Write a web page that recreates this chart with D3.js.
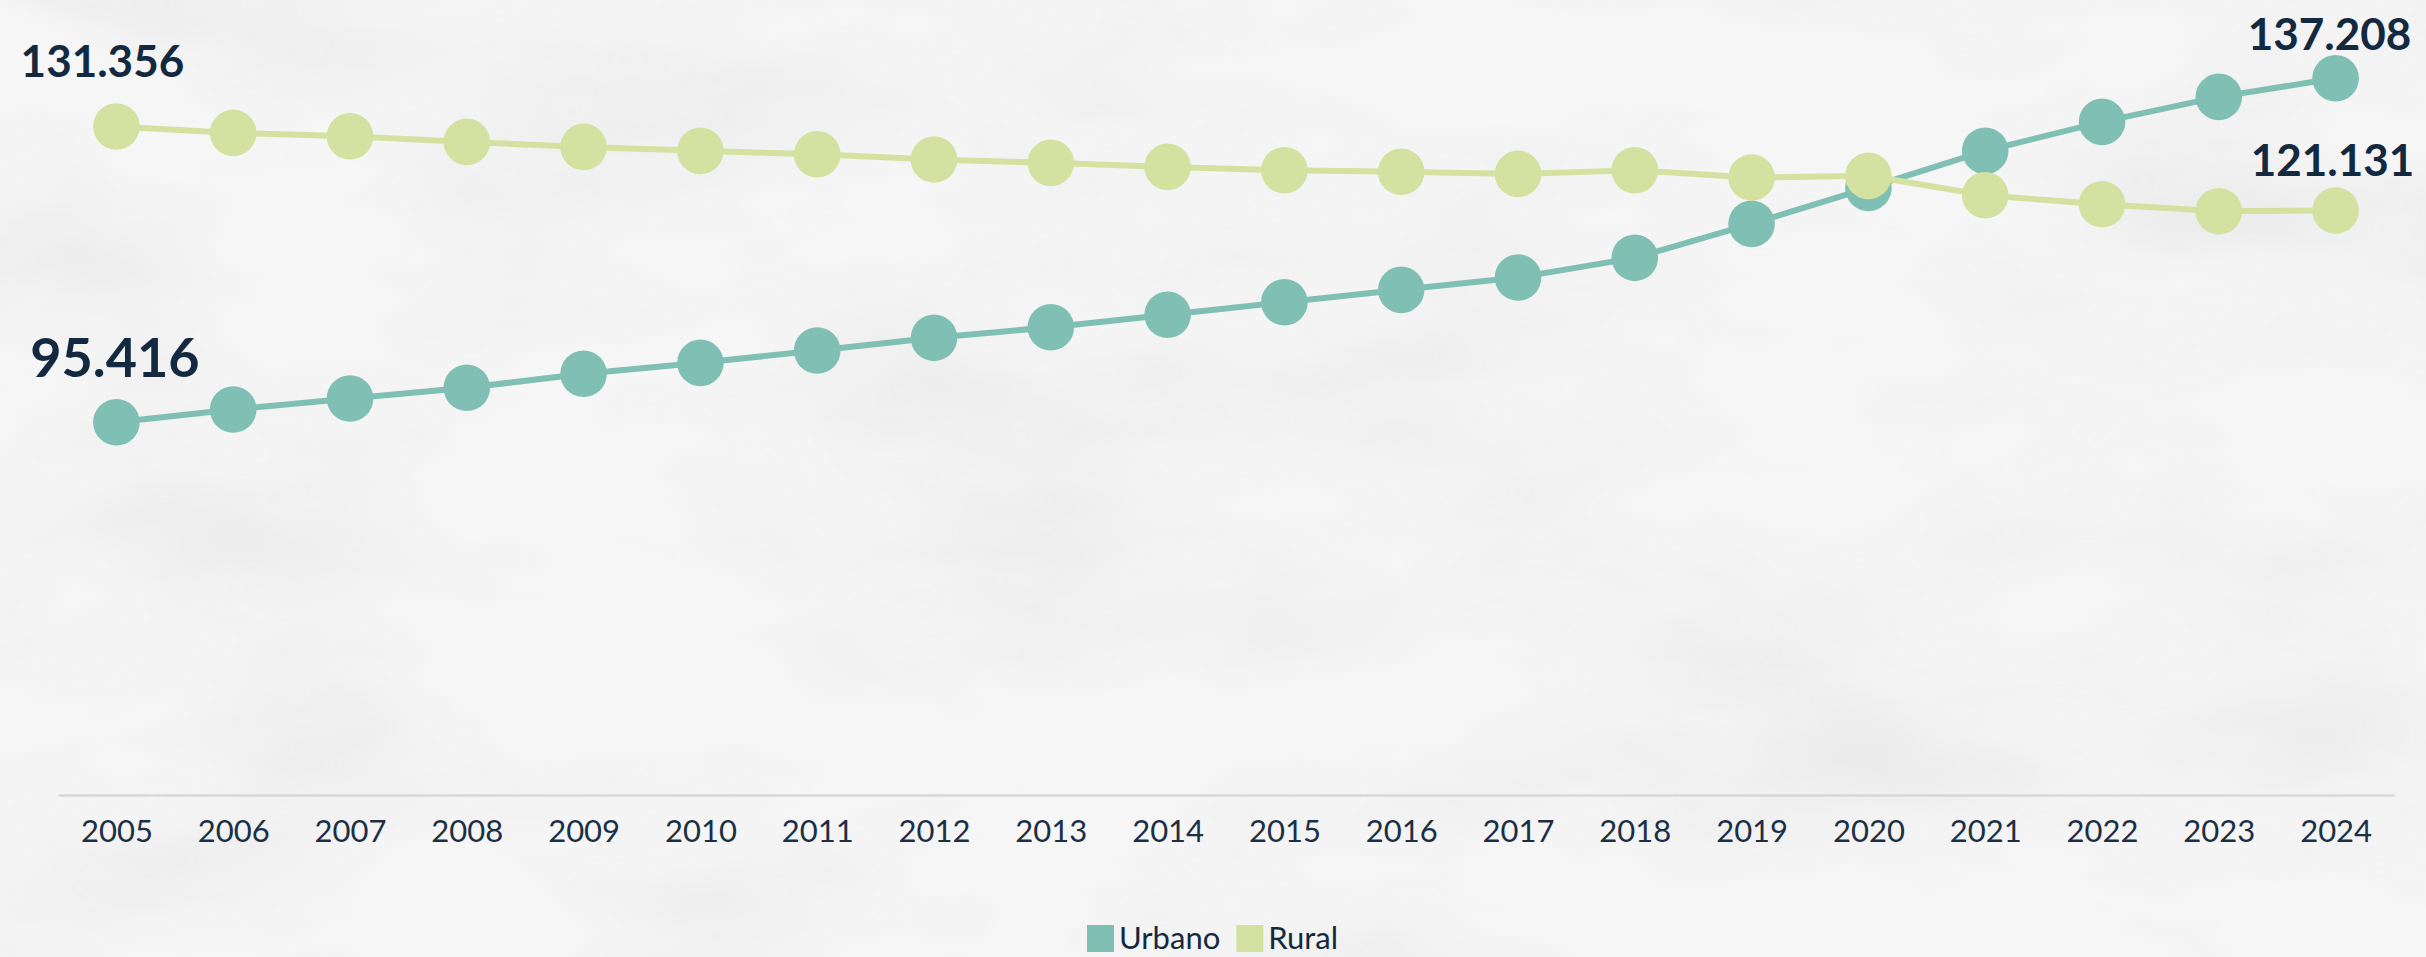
<!DOCTYPE html>
<html>
<head>
<meta charset="utf-8">
<script src="https://cdn.jsdelivr.net/npm/d3@7"></script>
<style>
  html, body { margin: 0; padding: 0; background: #f4f4f4; }
  svg { display: block; }
</style>
</head>
<body>
<svg id="chart" width="2426" height="957"></svg>
<script>
// ---- data ----
const years = ["2005","2006","2007","2008","2009","2010","2011","2012","2013","2014",
               "2015","2016","2017","2018","2019","2020","2021","2022","2023","2024"];
const urbano = [95.416, 96.96, 98.30, 99.60, 101.30, 102.63, 104.13, 105.67, 106.96, 108.47,
                110.00, 111.50, 113.00, 115.39, 119.52, 123.89, 128.39, 131.91, 134.95, 137.208];
const rural  = [131.356, 130.57, 130.16, 129.48, 128.87, 128.39, 127.97, 127.33, 126.93, 126.44,
                126.03, 125.84, 125.59, 126.03, 125.14, 125.35, 122.99, 121.90, 121.05, 121.131];
const seriesNames = ["Urbano", "Rural"];
const tickLabels = years;
// which points carry a value label
const labelledPoints = [
  { series: "Rural",  index: 0 },
  { series: "Urbano", index: 0 },
  { series: "Urbano", index: 19 },
  { series: "Rural",  index: 19 }
];

// ---- styles / layout ----
const W = 2426, H = 957;
const colors = { Urbano: "#80c0b4", Rural: "#d5e1a0" };
const textColor = "#13293f";
const labelStyle = [
  { dx: -14, dy: -49, size: 44 },
  { dx: -1.5, dy: -45, size: 54 },
  { dx: -6, dy: -28, size: 44 },
  { dx: -3, dy: -35, size: 44 }
];

const svg = d3.select("#chart");

// background texture
const defs = svg.append("defs");
const f = defs.append("filter").attr("id", "tex").attr("x", 0).attr("y", 0).attr("width", "100%").attr("height", "100%");
f.append("feTurbulence").attr("type", "fractalNoise").attr("baseFrequency", "0.0025 0.006").attr("numOctaves", 4).attr("seed", 7);
f.append("feColorMatrix").attr("type", "matrix")
  .attr("values", "0 0 0 0 0.55  0 0 0 0 0.55  0 0 0 0 0.55  0 0 0 0.9 -0.36");
svg.append("rect").attr("width", W).attr("height", H).attr("fill", "#f6f6f6");
svg.append("rect").attr("width", W).attr("height", H).attr("filter", "url(#tex)").attr("opacity", 0.45);

// scales
const x = d3.scalePoint().domain(years).range([58, 2394]).padding(0.5);
const y = d3.scaleLinear().domain([50, 150]).range([796, -27]);

// x axis
const axis = d3.axisBottom(x).tickSize(0).tickPadding(0).tickFormat((d, i) => tickLabels[i]);
const gx = svg.append("g").attr("transform", `translate(0,${y(50) - 1})`).call(axis);
gx.select(".domain").attr("stroke", "#d8d8d8").attr("stroke-width", 2.5);
gx.selectAll(".tick text")
  .attr("font-family", "Lato, sans-serif").attr("font-size", 31).attr("fill", "#1b2f45")
  .attr("dy", null).attr("y", 47);

// series
const data = { Urbano: urbano, Rural: rural };
const line = d3.line().x((d, i) => x(years[i])).y(d => y(d));
seriesNames.forEach(name => {
  const g = svg.append("g");
  g.append("path").datum(data[name]).attr("d", line)
    .attr("fill", "none").attr("stroke", colors[name]).attr("stroke-width", 6);
  g.selectAll("circle").data(data[name]).join("circle")
    .attr("cx", (d, i) => x(years[i])).attr("cy", d => y(d)).attr("r", 23.3)
    .attr("fill", colors[name]);
});

// value labels
const fmt = d3.format(".3f");
labelledPoints.forEach((p, k) => {
  const v = data[p.series][p.index];
  const s = labelStyle[k];
  svg.append("text")
    .attr("x", x(years[p.index]) + s.dx).attr("y", y(v) + s.dy)
    .attr("text-anchor", "middle")
    .attr("font-family", "Lato, sans-serif").attr("font-weight", 700)
    .attr("font-size", s.size).attr("fill", textColor)
    .text(fmt(v));
});

// legend
const legend = svg.append("g").attr("transform", "translate(1087,925)");
let lx = 0;
seriesNames.forEach(name => {
  const g = legend.append("g").attr("transform", `translate(${lx},0)`);
  g.append("rect").attr("width", 27).attr("height", 27).attr("fill", colors[name]);
  const t = g.append("text").attr("x", 32).attr("y", 24)
    .attr("font-family", "Lato, sans-serif").attr("font-size", 31).attr("fill", textColor)
    .text(name);
  lx += 32 + t.node().getComputedTextLength() + 16;
});
</script>
</body>
</html>
